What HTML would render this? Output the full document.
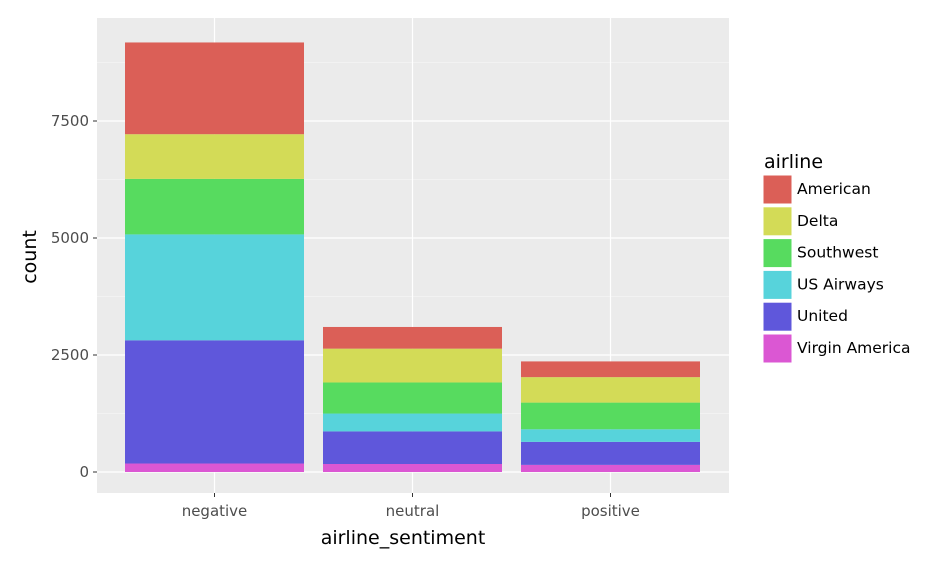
<!DOCTYPE html>
<html><head><meta charset="utf-8"><style>
body{margin:0;background:#fff;}
svg{font-family:"DejaVu Sans","Liberation Sans",sans-serif;}
</style></head><body>
<svg id="chart" width="928" height="566"></svg>
<script>
const categories=["negative","neutral","positive"];
const airlines=["American","Delta","Southwest","US Airways","United","Virgin America"];
const colors=["#db5f57","#d3db57","#57db5f","#57d3db","#5f57db","#db57d3"];
const american=[1960,463,336];
const delta=[955,723,544];
const southwest=[1186,664,570];
const usAirways=[2263,381,269];
const united=[2633,697,492];
const virgin=[181,171,152];
const yTicks=[0,2500,5000,7500];
const yMinor=[1250,3750,6250,8750];

const series=[american,delta,southwest,usAirways,united,virgin];
const NS="http://www.w3.org/2000/svg";
const svg=document.getElementById("chart");
const P={l:97,r:729,t:18,b:493};
const y=v=>472-v*(351/7500);
const step=198, x0=214.5;
const x=i=>x0+i*step;
const bw=179;
function el(t,a,p){const e=document.createElementNS(NS,t);for(const k in a)e.setAttribute(k,a[k]);(p||svg).appendChild(e);return e;}

const bg=el("rect",{x:P.l,y:P.t,width:P.r-P.l,height:P.b-P.t,fill:"#ebebeb"});


yMinor.forEach(v=>{const l=el("line",{x1:P.l,x2:P.r,y1:y(v),y2:y(v),stroke:"#fff","stroke-width":0.6,opacity:0.7});

});
yTicks.forEach(v=>{const l=el("line",{x1:P.l,x2:P.r,y1:y(v),y2:y(v),stroke:"#fff","stroke-width":1.2});


const tk=el("line",{x1:P.l-4,x2:P.l,y1:y(v),y2:y(v),stroke:"#333","stroke-width":1});


const t=el("text",{x:P.l-8,y:y(v)+5,"text-anchor":"end","font-size":15,fill:"#4d4d4d"});t.textContent=v;

});
categories.forEach((c,i)=>{const l=el("line",{x1:x(i),x2:x(i),y1:P.t,y2:P.b,stroke:"#fff","stroke-width":1.2});


const tk=el("line",{x1:x(i),x2:x(i),y1:P.b,y2:P.b+4,stroke:"#333","stroke-width":1});


const t=el("text",{x:x(i),y:P.b+23,"text-anchor":"middle","font-size":15,fill:"#4d4d4d"});t.textContent=c;

});
categories.forEach((c,i)=>{let base=0;
for(let s=series.length-1;s>=0;s--){const v=series[s][i];
const r=el("rect",{x:x(i)-bw/2,y:y(base+v),width:bw,height:y(base)-y(base+v),fill:colors[s]});


base+=v;}});
let t=el("text",{x:403,y:544,"text-anchor":"middle","font-size":19,fill:"#000"});t.textContent="airline_sentiment";


t=el("text",{x:0,y:0,transform:"translate(36,257) rotate(-90)","text-anchor":"middle","font-size":19,fill:"#000"});t.textContent="count";


t=el("text",{x:764,y:168,"font-size":19,fill:"#000"});t.textContent="airline";


airlines.forEach((a,i)=>{const yy=175+i*31.8;
const r=el("rect",{x:763,y:yy,width:29,height:29,fill:colors[i],stroke:"#fff","stroke-width":1});


const tx=el("text",{x:797,y:yy+19,"font-size":15.5,fill:"#000"});tx.textContent=a;

});
</script>
</body></html>
